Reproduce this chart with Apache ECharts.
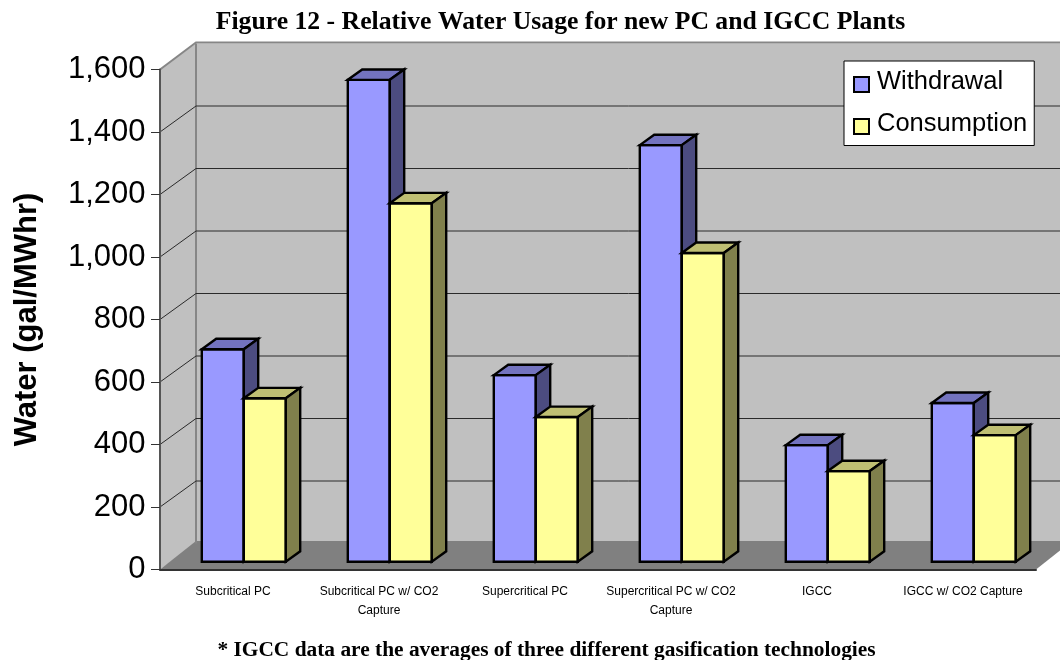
<!DOCTYPE html>
<html>
<head>
<meta charset="utf-8">
<style>
  html, body { margin: 0; padding: 0; background: #fff; }
  #chart { width: 1060px; height: 660px; }
</style>
</head>
<body>
<div id="chart"></div>
<script src="https://cdn.jsdelivr.net/npm/echarts@6/dist/echarts.min.js"></script>
<script>
const categories = [
  'Subcritical PC',
  'Subcritical PC w/ CO2\nCapture',
  'Supercritical PC',
  'Supercritical PC w/ CO2\nCapture',
  'IGCC',
  'IGCC w/ CO2 Capture'
]
const withdrawal = [680, 1542, 597, 1333, 373, 508]
const consumption = [523, 1147, 463, 988, 290, 405]
const yTicks = [0, 200, 400, 600, 800, 1000, 1200, 1400, 1600]

// depth of the fake 3D box, and of the bars inside it
const depthX = 36
const depthY = 26
const floorLift = 2.5
const barStart = 0.3
const barEnd = 0.7
const barRatio = 42 / 146

function poly (points, fill, stroke, lineWidth) {
  return {
    type: 'polygon',
    shape: { points },
    style: { fill, stroke: stroke || null, lineWidth: lineWidth || 0, lineJoin: 'miter' }
  }
}

function renderFrame (params, api) {
  const box = params.coordSys
  const left = box.x
  const right = box.x + box.width
  const top = box.y
  const bottom = box.y + box.height
  const y = api.coord([0, api.value(1)])[1]
  const children = []
  if (params.dataIndex === 0) {
    children.push(poly([[left + depthX, top - depthY], [right + depthX, top - depthY], [right + depthX, bottom - depthY], [left + depthX, bottom - depthY]], '#c0c0c0'))
    children.push(poly([[left, top], [left + depthX, top - depthY], [left + depthX, bottom - depthY], [left, bottom]], '#c0c0c0'))
    children.push(poly([[left, bottom], [left + depthX, bottom - depthY - floorLift], [right + depthX, bottom - depthY - floorLift], [right, bottom]], '#808080'))
    children.push({
      type: 'polyline',
      shape: { points: [[left, top], [left + depthX, top - depthY - 1], [right + depthX, top - depthY - 1]] },
      style: { fill: null, stroke: '#868686', lineWidth: 2 }
    })
    children.push({
      type: 'line',
      shape: { x1: left + depthX, y1: top - depthY, x2: left + depthX, y2: bottom - depthY },
      style: { stroke: '#868686', lineWidth: 2 }
    })
  }
  const value = api.value(1)
  if (value > 0 && value < 1600) {
    children.push({
      type: 'polyline',
      shape: { points: [[left, y], [left + depthX, y - depthY], [right + depthX, y - depthY]] },
      style: { fill: null, stroke: '#2a2a2a', lineWidth: 1 }
    })
  }
  return { type: 'group', children }
}

function barRenderer (side, front, topFace, sideFace) {
  return function (params, api) {
    const point = api.coord([api.value(0), api.value(1)])
    const base = api.coord([api.value(0), 0])
    const w = api.size([1, 0])[0] * barRatio
    const dx0 = depthX * barStart
    const dy0 = depthY * barStart
    const dx = depthX * (barEnd - barStart)
    const dy = depthY * (barEnd - barStart)
    const x0 = point[0] + dx0 + (side < 0 ? -w : 0)
    const x1 = x0 + w
    const yTop = point[1] - dy0
    const yBase = base[1] - dy0
    return {
      type: 'group',
      children: [
        poly([[x0, yTop], [x1, yTop], [x1, yBase], [x0, yBase]], front, '#000', 2.4),
        poly([[x0, yTop], [x0 + dx, yTop - dy], [x1 + dx, yTop - dy], [x1, yTop]], topFace, '#000', 2.4),
        poly([[x1, yTop], [x1 + dx, yTop - dy], [x1 + dx, yBase - dy], [x1, yBase]], sideFace, '#000', 2.4)
      ]
    }
  }
}

const chart = echarts.init(document.getElementById('chart'), null, { renderer: 'canvas' })
chart.setOption({
  animation: false,
  backgroundColor: '#fff',
  title: [
    {
      text: 'Figure 12 - Relative Water Usage for new PC and IGCC Plants',
      left: 555.5,
      top: 4,
      textAlign: 'center',
      textStyle: { fontFamily: 'Liberation Serif', fontWeight: 'bold', fontSize: 25.7, color: '#000' }
    },
    {
      text: '* IGCC data are the averages of three different gasification technologies',
      left: 541.5,
      top: 635,
      textAlign: 'center',
      textStyle: { fontFamily: 'Liberation Serif', fontWeight: 'bold', fontSize: 21.4, color: '#000' }
    }
  ],
  legend: {
    left: 844,
    top: 61,
    orient: 'vertical',
    align: 'left',
    backgroundColor: '#fff',
    borderColor: '#000',
    borderWidth: 1,
    borderRadius: 0,
    padding: [7.5, 7, 9, 9],
    itemGap: 16,
    itemWidth: 15,
    itemHeight: 15,
    icon: 'rect',
    data: ['Withdrawal', 'Consumption'],
    formatter: '{t|{name}}',
    textStyle: {
      rich: {
        t: { fontFamily: 'Liberation Sans', fontSize: 25.5, color: '#000', padding: [0, 0, 6, 3] }
      }
    }
  },
  grid: { left: 160, top: 69.5, width: 876, height: 500, containLabel: false },
  xAxis: {
    type: 'category',
    data: categories,
    z: 5,
    axisLine: { lineStyle: { color: '#333', width: 2 } },
    axisTick: { length: 9, alignWithLabel: false, lineStyle: { color: '#333', width: 1 } },
    axisLabel: {
      interval: 0,
      margin: 12,
      fontFamily: 'Liberation Sans',
      fontSize: 12,
      lineHeight: 19.5,
      color: '#000'
    }
  },
  yAxis: {
    type: 'value',
    min: 0,
    max: 1600,
    interval: 200,
    z: 5,
    name: 'Water (gal/MWhr)',
    nameLocation: 'middle',
    nameGap: 117,
    nameRotate: 90,
    nameTextStyle: { fontFamily: 'Liberation Sans', fontWeight: 'bold', fontSize: 31, color: '#000' },
    splitLine: { show: false },
    axisLine: { show: true, lineStyle: { color: '#555', width: 2 } },
    axisTick: { show: true, length: 9, lineStyle: { color: '#333', width: 1 } },
    axisLabel: {
      margin: 14.5,
      fontFamily: 'Liberation Sans',
      fontSize: 31,
      color: '#000',
      formatter: v => v.toLocaleString('en-US')
    }
  },
  series: [
    {
      name: 'frame',
      type: 'custom',
      silent: true,
      z: 1,
      encode: { x: 0, y: 1 },
      renderItem: renderFrame,
      data: yTicks.map(v => [0, v])
    },
    {
      name: 'Withdrawal',
      type: 'custom',
      z: 2,
      encode: { x: 0, y: 1 },
      itemStyle: { color: '#9999ff', borderColor: '#000', borderWidth: 2 },
      renderItem: barRenderer(-1, '#9999ff', '#7373bf', '#4c4c80'),
      data: withdrawal.map((v, i) => [i, v])
    },
    {
      name: 'Consumption',
      type: 'custom',
      z: 3,
      encode: { x: 0, y: 1 },
      itemStyle: { color: '#ffff99', borderColor: '#000', borderWidth: 2 },
      renderItem: barRenderer(1, '#ffff99', '#bfbf73', '#80804c'),
      data: consumption.map((v, i) => [i, v])
    }
  ]
})
</script>
</body>
</html>
